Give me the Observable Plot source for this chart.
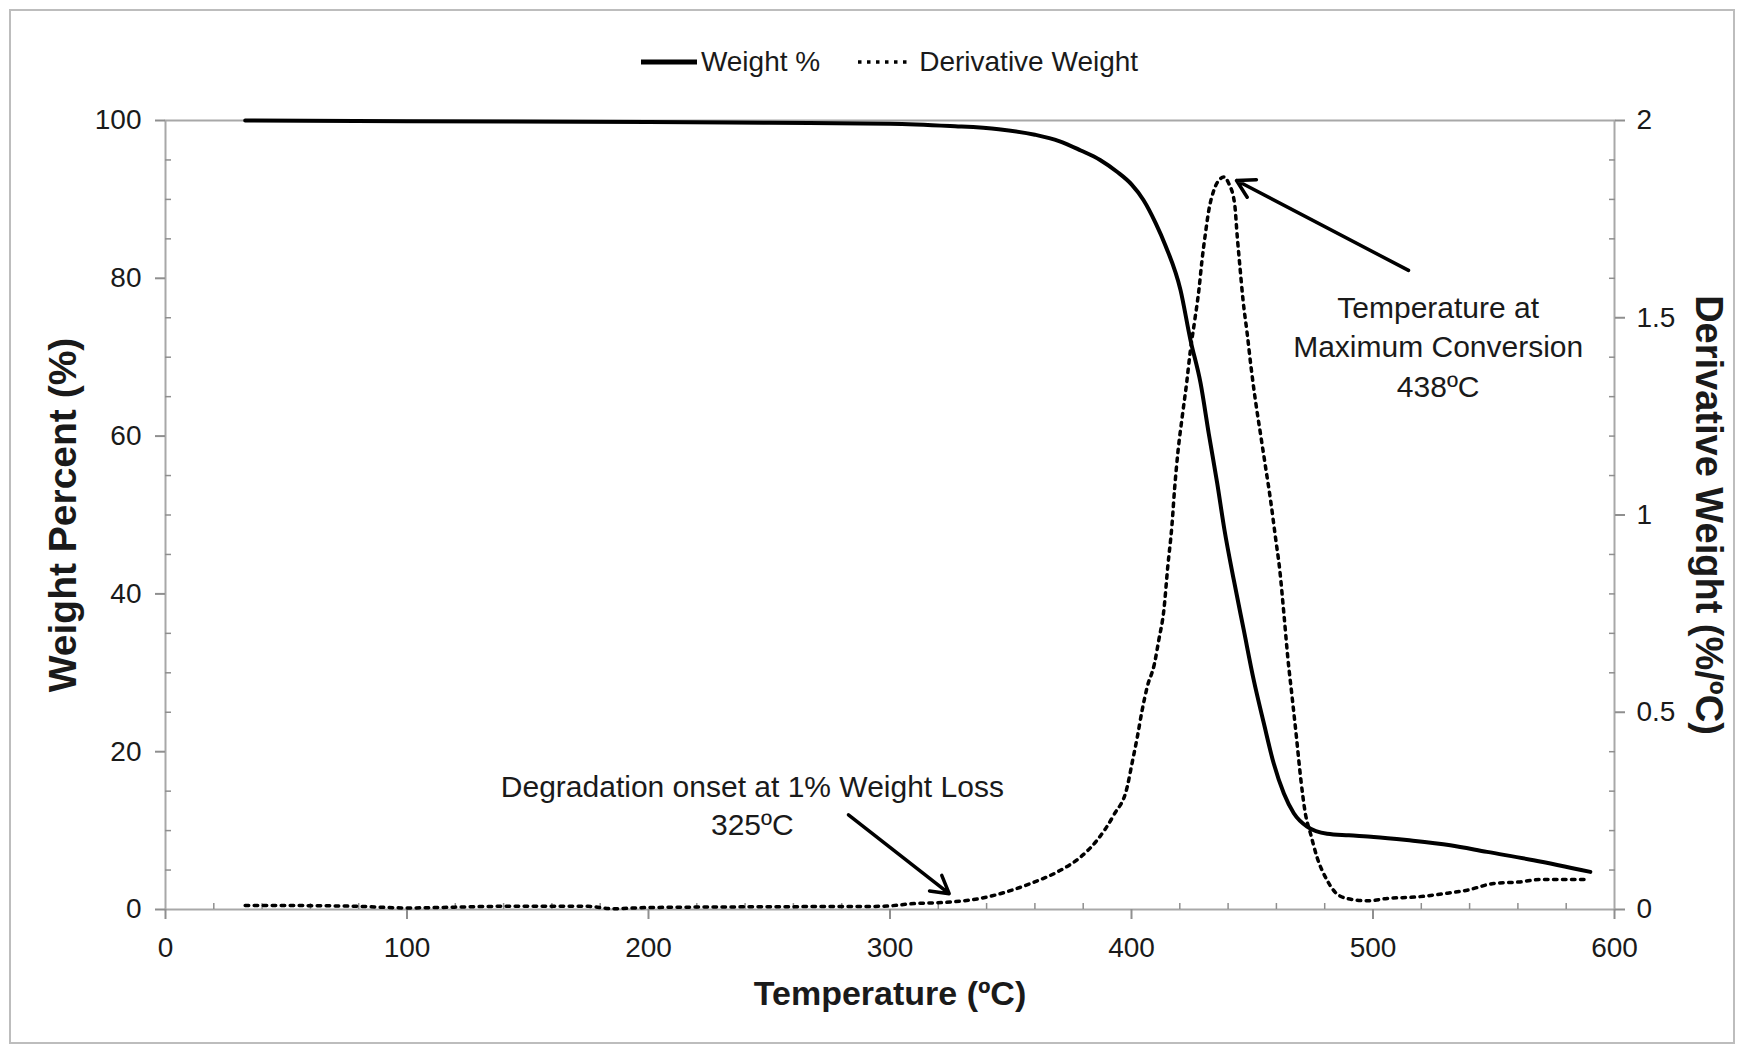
<!DOCTYPE html>
<html>
<head>
<meta charset="utf-8">
<script src="https://cdn.jsdelivr.net/npm/d3@7"></script>
<script src="https://cdn.jsdelivr.net/npm/@observablehq/plot@0.6"></script>
<style>
  html, body { margin: 0; padding: 0; background: #fff; width: 1745px; height: 1053px; overflow: hidden; }
  body { position: relative; font-family: 'Liberation Sans', Arial, sans-serif; color: #1a1a1a; }
  #frame { position: absolute; left: 9px; top: 9px; width: 1726px; height: 1035px; border: 2px solid #bdbdbd; box-sizing: border-box; pointer-events: none; }
  #legend { height: 95px; display: flex; justify-content: center; align-items: flex-start; box-sizing: border-box; }
  #legend .inner { display: flex; align-items: center; margin-top: 45px; margin-left: 34px; font-size: 28px; line-height: 34px; }
  #legend .item { display: flex; align-items: center; }
  #chart { display: block; }
</style>
</head>
<body>
<div id="frame"></div>
<div id="legend"></div>
<div id="chart"></div>
<script>
// ---- Data ----
const weightT = [33, 100, 200, 250, 300, 325, 345, 360, 370, 379, 387, 394, 400, 405, 410, 414, 420.3, 424.4, 428.6, 432, 435.5, 438.5, 442.4, 446.5, 450.6, 454.8, 458.9, 463.1, 467.2, 472.7, 481, 490, 500.3, 514, 532, 547.2, 566.5, 590];
const weightW = [100.0, 99.9, 99.8, 99.7, 99.6, 99.3, 98.9, 98.2, 97.4, 96.2, 95.0, 93.5, 91.9, 89.9, 87.0, 84.2, 78.5, 72.2, 66.7, 60.3, 54.0, 48.1, 41.7, 35.4, 29.1, 23.6, 18.5, 14.7, 12.2, 10.5, 9.6, 9.4, 9.2, 8.8, 8.15, 7.3, 6.25, 4.77];

const derivT = [33, 50, 80, 100, 140, 175, 185, 200, 250, 296, 310, 325, 337.3, 348.4, 358.2, 369.2, 378.9, 385.8, 392.7, 398.2, 400.2, 402.4, 404.4, 406.5, 409.5, 411.3, 413.4, 415.0, 416.8, 417.8, 419.3, 421.0, 422.8, 424.4, 426.2, 427.9, 429.2, 430.6, 432.0, 434.1, 436.9, 438.2, 440.3, 442.7, 443.8, 444.9, 446.2, 447.9, 449.5, 451.3, 453.4, 455.5, 457.6, 459.6, 461.4, 463.1, 464.7, 466.5, 468.3, 470.0, 472.0, 474.1, 476.8, 481.0, 485.8, 491.7, 497.6, 505.9, 518.3, 529.3, 539, 550, 561, 569.4, 588.6];
const derivD = [0.010, 0.010, 0.008, 0.004, 0.008, 0.008, 0.002, 0.005, 0.007, 0.008, 0.015, 0.019, 0.028, 0.045, 0.066, 0.095, 0.133, 0.176, 0.24, 0.31, 0.370, 0.437, 0.505, 0.564, 0.623, 0.683, 0.759, 0.868, 0.978, 1.063, 1.164, 1.249, 1.333, 1.418, 1.494, 1.570, 1.646, 1.713, 1.772, 1.823, 1.853, 1.857, 1.840, 1.789, 1.705, 1.629, 1.544, 1.46, 1.375, 1.291, 1.206, 1.122, 1.037, 0.944, 0.860, 0.750, 0.640, 0.539, 0.437, 0.336, 0.243, 0.193, 0.133, 0.074, 0.036, 0.025, 0.022, 0.028, 0.032, 0.040, 0.049, 0.066, 0.070, 0.076, 0.076];

const xTicks = [0, 100, 200, 300, 400, 500, 600];
const xMinorTicks = d3.range(0, 601, 20).filter(d => d % 100 !== 0);
const yLeftTicks = [0, 20, 40, 60, 80, 100];
const yLeftMinor = d3.range(0, 101, 5).filter(d => d % 20 !== 0);
const yRightTicks = [0, 0.5, 1, 1.5, 2];
const yRightMinor = d3.range(0, 21, 1).map(d => d / 10).filter(d => (d * 10) % 5 !== 0);

const seriesNames = ["Weight %", "Derivative Weight"];
const axisTitles = { x: "Temperature (ºC)", yLeft: "Weight Percent (%)", yRight: "Derivative Weight (%/ºC)" };

// annotations: label position (T, weight-axis units) and arrow start/end
const annotText = [
  { T: 527, W: 71.6, text: "Temperature at\nMaximum Conversion\n438ºC" },
  { T: 243, W: 13.4, text: "Degradation onset at 1% Weight Loss\n325ºC" }
];
const annotArrows = [
  { T1: 514.7, W1: 81.0, T2: 443.5, W2: 92.4 },
  { T1: 282.8, W1: 12.0, T2: 324.5, W2: 2.0 }
];

// derivative axis (0..2) mapped onto the weight axis (0..100)
const DSCALE = 50;

const weight = weightT.map((t, i) => ({ T: t, W: weightW[i] }));
const deriv = derivT.map((t, i) => ({ T: t, D: derivD[i] }));

// ---- Legend ----
const legend = document.getElementById("legend");
legend.innerHTML = `
  <div class="inner">
    <div class="item">
      <svg width="56" height="10"><line x1="0" y1="5" x2="56" y2="5" stroke="#000" stroke-width="5"/></svg>
      <span style="margin-left:4px">${seriesNames[0]}</span>
    </div>
    <div class="item" style="margin-left:37px">
      <svg width="53" height="10"><line x1="1" y1="5" x2="53" y2="5" stroke="#000" stroke-width="3.5" stroke-dasharray="3.5 5.5"/></svg>
      <span style="margin-left:9px">${seriesNames[1]}</span>
    </div>
  </div>`;

const axisGrey = "#8f8f8f";
const txt = "#1a1a1a";

const chart = Plot.plot({
  width: 1745,
  height: 958,
  marginTop: 25,
  marginBottom: 144,
  marginLeft: 165,
  marginRight: 131,
  x: { domain: [0, 600] },
  y: { domain: [0, 100] },
  style: { fontFamily: "'Liberation Sans', Arial, sans-serif", color: txt, background: "transparent", overflow: "visible" },
  marks: [
    Plot.frame({ stroke: "#a8a8a8", strokeWidth: 2 }),
    // x axis
    Plot.axisX({ ticks: xTicks, tickSize: 10, tickPadding: 18, fontSize: 28, stroke: axisGrey, strokeWidth: 2, fill: txt, label: null, tickFormat: d => String(d) }),
    Plot.axisX({ ticks: xMinorTicks, tickSize: 6, dy: -6, stroke: axisGrey, strokeWidth: 1.5, label: null, tickFormat: () => "" }),
    // left y axis
    Plot.axisY({ anchor: "left", ticks: yLeftTicks, tickSize: 10, tickPadding: 14, fontSize: 28, stroke: axisGrey, strokeWidth: 2, fill: txt, label: null, tickFormat: d => String(d) }),
    Plot.axisY({ anchor: "left", ticks: yLeftMinor, tickSize: 6, dx: 6, stroke: axisGrey, strokeWidth: 1.5, label: null, tickFormat: () => "" }),
    // right y axis (derivative)
    Plot.axisY({ anchor: "right", ticks: yRightTicks.map(d => d * DSCALE), tickSize: 10, tickPadding: 12, fontSize: 28, stroke: axisGrey, strokeWidth: 2, fill: txt, label: null, tickFormat: d => d3.format("~g")(d / DSCALE) }),
    Plot.axisY({ anchor: "right", ticks: yRightMinor.map(d => d * DSCALE), tickSize: 6, dx: -6, stroke: axisGrey, strokeWidth: 1.5, label: null, tickFormat: () => "" }),
    // axis titles
    Plot.text([axisTitles.yLeft], { frameAnchor: "left", textAnchor: "middle", dx: -102, rotate: -90, fontSize: 39, fontWeight: "bold", fill: txt }),
    Plot.text([axisTitles.yRight], { frameAnchor: "right", textAnchor: "middle", dx: 94, rotate: 90, fontSize: 38, fontWeight: "bold", fill: txt }),
    Plot.text([axisTitles.x], { frameAnchor: "bottom", textAnchor: "middle", dy: 95, fontSize: 34, fontWeight: "bold", fill: txt }),
    // data
    Plot.line(weight, { x: "T", y: "W", stroke: "#000", strokeWidth: 4, curve: "monotone-x" }),
    Plot.line(deriv, { x: "T", y: d => d.D * DSCALE, stroke: "#000", strokeWidth: 3.5, strokeDasharray: "3.5 5.5", curve: "monotone-x" }),
    // annotations
    Plot.arrow(annotArrows, { x1: "T1", y1: "W1", x2: "T2", y2: "W2", stroke: "#000", strokeWidth: 3.5, headLength: 8.5, headAngle: 60 }),
    Plot.text(annotText.slice(0, 1), { x: "T", y: "W", text: "text", fontSize: 30, lineHeight: 1.32, textAnchor: "middle", lineAnchor: "middle", fill: txt }),
    Plot.text(annotText.slice(1), { x: "T", y: "W", text: "text", fontSize: 30, lineHeight: 1.27, textAnchor: "middle", lineAnchor: "middle", fill: txt })
  ]
});
document.getElementById("chart").appendChild(chart);
</script>
</body>
</html>
